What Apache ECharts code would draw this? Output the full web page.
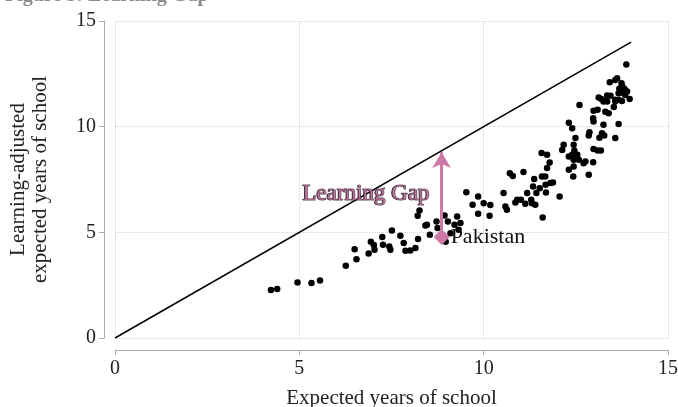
<!DOCTYPE html>
<html>
<head>
<meta charset="utf-8">
<script src="https://cdn.jsdelivr.net/npm/echarts@6/dist/echarts.min.js"></script>
<style>
html,body{margin:0;padding:0;background:#fff;}
#chart{width:678px;height:407px;}
</style>
</head>
<body>
<div id="chart"></div>
<script>
// data: [expected years, learning-adjusted years]
var countries = [
  [4.23,2.27],[4.40,2.32],[4.95,2.63],[5.33,2.60],[5.56,2.72],[6.26,3.42],[6.50,4.20],[6.55,3.73],
  [6.88,4.00],[6.94,4.55],[7.02,4.40],[7.04,4.17],[7.25,4.78],[7.27,4.41],[7.44,4.33],[7.47,4.17],
  [7.51,5.09],[7.74,4.84],[7.83,4.49],[7.88,4.13],[8.01,4.14],[8.15,4.26],[8.22,4.69],[8.21,5.78],
  [8.26,6.03],[8.42,5.32],[8.46,5.36],[8.54,4.88],[8.72,5.51],[8.75,5.20],[8.94,5.80],[8.97,4.55],
  [9.03,5.51],[9.10,4.96],[9.21,5.36],[9.28,5.75],[9.32,5.12],[9.37,5.44],
  [9.53,6.90],[9.70,6.30],[9.85,6.70],[9.85,5.88],[10.00,6.38],[10.18,6.29],[10.16,5.78],[10.54,6.86],
  [10.59,6.22],[10.63,6.07],[10.71,7.80],[10.79,7.67],[10.86,6.41],[10.91,6.54],[11.01,6.54],[11.08,7.85],
  [11.13,6.35],[11.18,6.86],[11.29,6.54],[11.31,6.38],[11.34,7.17],[11.37,7.52],[11.40,6.30],[11.43,6.86],
  [11.52,7.09],[11.57,8.75],[11.60,5.70],[11.58,7.64],[11.67,7.64],[11.68,7.25],[11.69,6.88],[11.72,8.67],
  [11.72,8.04],[11.79,8.30],[11.81,7.33],[11.88,7.36],[12.06,6.70],
  [12.13,8.90],[12.17,9.14],[12.31,10.19],[12.40,9.93],[12.31,8.59],[12.40,8.67],[12.49,8.59],[12.54,8.67],
  [12.58,8.43],[12.44,8.43],[12.44,9.14],[12.46,8.87],[12.49,9.46],[12.60,11.02],[12.71,8.27],[12.76,8.35],
  [12.31,7.96],[12.44,8.11],[12.43,7.64],[12.85,7.72],[12.87,9.74],[12.85,9.58],[12.97,10.40],[12.98,10.24],
  [12.97,8.32],[12.98,8.94],[13.09,8.87],[13.18,8.87],[12.98,10.75],[13.09,10.80],[13.14,9.48],[13.21,9.69],
  [13.27,9.58],[13.25,10.09],[13.30,10.71],[13.39,10.64],[13.53,10.93],[13.57,9.46],[13.66,10.13],[13.25,11.19],
  [13.35,11.19],[13.57,11.19],[13.12,11.38],[13.19,11.31],[13.28,11.22],[13.35,11.47],[13.44,11.46],
  [13.42,12.10],[13.57,12.21],[13.62,12.29],[13.74,12.06],[13.75,11.93],[13.80,11.82],[13.68,11.79],[13.84,11.74],
  [13.89,11.66],[13.80,11.58],[13.71,11.66],[13.66,11.58],[13.84,11.50],[13.96,11.31],[13.75,11.22],[13.66,11.27],
  [13.57,11.27],[13.87,12.94]
];
var pakistan = [8.86, 4.78];
var gapTop = [8.86, 8.80];
var parityLine = [[0,0],[14,14]];
var gapLabelPos = [6.81, 6.82];
var xTicks = [0, 5, 10, 15];
var yTicks = [0, 5, 10, 15];

var pink = '#cc79a7';
var serif = 'Liberation Serif, DejaVu Serif, serif';

var chart = echarts.init(document.getElementById('chart'));
var option = {
    animation: false,
    title: {
        text: 'Figure 3: Learning Gap',
        left: 0,
        top: -19,
        textStyle: {fontFamily: serif, fontSize: 20, fontWeight: 'bold', color: '#8c8c8c'}
    },
    grid: {left: 115, right: 10, top: 21, bottom: 69, outerBoundsMode: 'none', containLabel: false},
    xAxis: {
        type: 'value',
        min: xTicks[0],
        max: xTicks[xTicks.length - 1],
        interval: 5,
        offset: 12,
        axisLine: {show: true, onZero: false, lineStyle: {color: '#aaa', width: 1}},
        axisTick: {show: true, length: 5, lineStyle: {color: '#aaa'}},
        axisLabel: {margin: 9, color: '#222', fontFamily: serif, fontSize: 20},
        splitLine: {show: true, lineStyle: {color: '#d4d4d4', type: 'dotted'}},
        name: 'Expected years of school',
        nameLocation: 'middle',
        nameGap: 38,
        nameTextStyle: {color: '#222', fontFamily: serif, fontSize: 21}
    },
    yAxis: {
        type: 'value',
        min: yTicks[0],
        max: yTicks[yTicks.length - 1],
        interval: 5,
        offset: 11,
        axisLine: {show: true, onZero: false, lineStyle: {color: '#aaa', width: 1}},
        axisTick: {show: true, length: 5, lineStyle: {color: '#aaa'}},
        axisLabel: {margin: 8, color: '#222', fontFamily: serif, fontSize: 20},
        splitLine: {show: true, lineStyle: {color: '#d4d4d4', type: 'dotted'}},
        name: 'Learning-adjusted\nexpected years of school',
        nameLocation: 'middle',
        nameRotate: 90,
        nameGap: 53,
        nameTextStyle: {color: '#222', fontFamily: serif, fontSize: 21, lineHeight: 22}
    },
    series: [
        {
            type: 'line',
            data: parityLine,
            symbol: 'none',
            lineStyle: {color: '#000', width: 1.5},
            z: 1
        },
        {
            type: 'scatter',
            data: countries,
            symbolSize: 6.5,
            itemStyle: {color: '#000', opacity: 1},
            z: 2
        },
        {
            type: 'scatter',
            data: [pakistan],
            symbol: 'diamond',
            symbolSize: 16,
            itemStyle: {color: pink, opacity: 1},
            label: {
                show: true,
                position: 'right',
                distance: 1,
                formatter: 'Pakistan',
                color: '#111',
                fontFamily: serif,
                fontSize: 22
            },
            markLine: {
                silent: true,
                symbol: ['none', 'arrow'],
                symbolSize: [14, 16],
                label: {show: false},
                lineStyle: {color: pink, width: 3, type: 'solid', opacity: 1},
                data: [[{coord: pakistan}, {coord: gapTop}]]
            },
            z: 3
        },
        {
            // dark copy under the pink text
            type: 'scatter',
            data: [gapLabelPos],
            symbolSize: 0,
            label: {
                show: true,
                position: 'inside',
                offset: [-1, 0.5],
                formatter: 'Learning Gap',
                color: '#1a1016',
                fontFamily: serif,
                fontSize: 23
            },
            z: 4
        },
        {
            type: 'scatter',
            data: [gapLabelPos],
            symbolSize: 0,
            label: {
                show: true,
                position: 'inside',
                offset: [0, 0],
                formatter: 'Learning Gap',
                color: pink,
                fontFamily: serif,
                fontSize: 23,
                textBorderColor: '#2a1822',
                textBorderWidth: 1.2
            },
            z: 5
        }
    ]
};
chart.setOption(option);
</script>
</body>
</html>
